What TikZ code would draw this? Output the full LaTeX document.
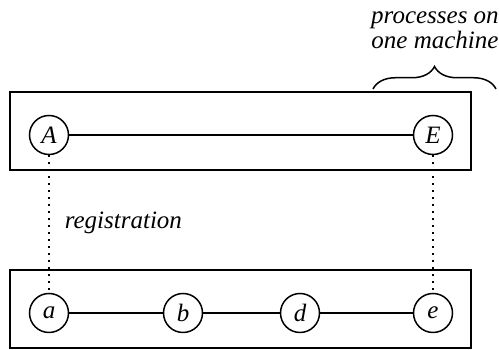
\documentclass[tikz,border=0pt]{standalone}
\usepackage{fontspec}
\setmainfont{Liberation Serif}
\usepackage{tikz}
\usetikzlibrary{positioning, decorations.pathreplacing}

\tikzset{
  proc/.style={circle, draw, line width=0.6pt, minimum size=15.6pt, inner sep=0pt, font=\itshape},
  machine/.style={draw, line width=0.9pt},
  link/.style={line width=0.6pt},
  reg/.style={dotted, line width=0.8pt}
}

\begin{document}
\begin{tikzpicture}[x=0.4pt, y=0.4pt]
\useasboundingbox (0,0) rectangle (499,350);

% Upper machine
\draw[machine] (10,180) rectangle (471,258);
\node[proc] (A) at (49,215) {A};
\node[proc] (E) at (433,215) {E};
\draw[link] (A) -- (E);

% Lower machine
\draw[machine] (10,2) rectangle (471,80);
\node[proc] (a) at (49,37) {a};
\node[proc] (b) at (183,37) {b};
\node[proc] (d) at (300,37) {d};
\node[proc] (e) at (433,37) {e};
\draw[link] (a) -- (b) -- (d) -- (e);

% Registration
\draw[reg] (A) -- (a);
\draw[reg] (E) -- (e);
\node[anchor=west, font=\itshape] (regtext) at (56,127) {registration};

% Brace
\coordinate (bl) at (373,261);
\coordinate (br) at (496,261);
\draw[line width=0.6pt, decorate, decoration={brace, amplitude=9pt}] (bl) -- (br);
\node[align=center, font=\itshape, inner sep=0pt] (note) at (435,320) {processes on\\[-2pt]one machine};
\end{tikzpicture}
\end{document}
